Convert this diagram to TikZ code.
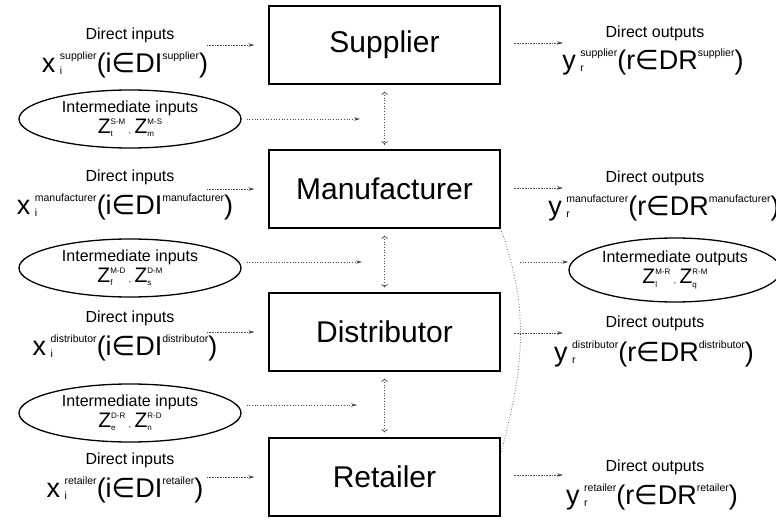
\documentclass[tikz,border=0pt]{standalone}
\usepackage{fontspec}
\setmainfont{Liberation Sans}
\newfontfamily\symfont{DejaVu Sans}
\usetikzlibrary{arrows.meta,shapes.geometric}
\newcommand{\fs}[1]{\fontsize{#1}{#1}\selectfont}
% variable with stacked sub/superscript, then its index set
\newcommand{\flowvar}[5]{{\fs{27}#1\,\rlap{\raisebox{-0.15ex}{\fs{10.5}#2}}\raisebox{0.85ex}{\fs{10.5}#3}(#4{\symfont ∈}#5\raisebox{0.85ex}{\fs{10.5}#3})}}
\newcommand{\zvar}[2]{Z\rlap{\raisebox{-0.3ex}{\fs{8}#2}}\raisebox{0.8ex}{\fs{8}#1}}
\newcommand{\zpair}[5]{\begin{tabular}{@{}c@{}}\fs{16}#1\\[3pt]\fs{21}\zvar{#2}{#3}\,{\fs{8},}\,\zvar{#4}{#5}\end{tabular}}

\begin{document}
\begin{tikzpicture}[x=1pt, y=1pt,
    unit/.style={draw, line width=1.1pt, minimum width=231pt, minimum height=78pt, font=\fs{30}},
    lbl/.style={font=\fs{16}},
    mid/.style={draw, ellipse, line width=1.3pt, minimum width=222pt, minimum height=58pt, inner sep=0pt},
    feed/.style={densely dotted, draw=black!70, line width=0.6pt, -{Stealth[length=6pt, width=3.5pt]}},
    trade/.style={dotted, draw=black!70, line width=0.7pt, -{Stealth[length=6pt, width=3.5pt]}}]
    \useasboundingbox (0,0) rectangle (776,520);

    \node[unit] (sup) at (384.5,475) {Supplier};
    \node[unit] (man) at (384.5,331) {Manufacturer};
    \node[unit] (dis) at (384.5,188) {Distributor};
    \node[unit] (ret) at (384.5,43) {Retailer};

    \draw[trade, <->, shorten <=7pt, shorten >=5pt] (sup) -- (man);
    \draw[trade, <->, shorten <=7pt, shorten >=5pt] (man) -- (dis);
    \draw[trade, <->, shorten <=7pt, shorten >=5pt] (dis) -- (ret);

    % direct inputs
    \node[lbl] (dinsup) at (130,485) {Direct inputs};
    \node (xsup) at (125,455) {\flowvar{x}{i}{supplier}{i}{DI}};
    \node[lbl] (dinman) at (130,343) {Direct inputs};
    \node (xman) at (125,313) {\flowvar{x}{i}{manufacturer}{i}{DI}};
    \node[lbl] (dindis) at (130,202) {Direct inputs};
    \node (xdis) at (125,172) {\flowvar{x}{i}{distributor}{i}{DI}};
    \node[lbl] (dinret) at (130,60) {Direct inputs};
    \node (xret) at (125,30) {\flowvar{x}{i}{retailer}{i}{DI}};

    \coordinate (asup) at (207,475);
    \coordinate (aman) at (207,331);
    \coordinate (adis) at (207,188);
    \coordinate (aret) at (207,43);
    \draw[feed, shorten >=14pt] (asup) -- (sup.west);
    \draw[feed, shorten >=14pt] (aman) -- (man.west);
    \draw[feed, shorten >=14pt] (adis) -- (dis.west);
    \draw[feed, shorten >=14pt] (aret) -- (ret.west);

    % intermediate inputs
    \node[mid] (isupman) at (130,401) {\zpair{Intermediate inputs}{S-M}{t}{M-S}{m}};
    \node[mid] (imandis) at (130,252) {\zpair{Intermediate inputs}{M-D}{f}{D-M}{s}};
    \node[mid] (idisret) at (130,107) {\zpair{Intermediate inputs}{D-R}{e}{R-D}{n}};

    \coordinate (msup) at (360,401);
    \coordinate (mman) at (362,258);
    \coordinate (mdis) at (357,115);
    \draw[trade, shorten <=5pt] (isupman.east |- msup) -- (msup);
    \draw[trade, shorten <=5pt] (imandis.east |- mman) -- (mman);
    \draw[trade, shorten <=5pt] (idisret.east |- mdis) -- (mdis);

    % direct outputs
    \node[lbl] (doutsup) at (655,487) {Direct outputs};
    \node (ysup) at (653,458) {\flowvar{y}{r}{supplier}{r}{DR}};
    \node[lbl] (doutman) at (655,342) {Direct outputs};
    \node (yman) at (664,312) {\flowvar{y}{r}{manufacturer}{r}{DR}};
    \node[lbl] (doutdis) at (655,197) {Direct outputs};
    \node (ydis) at (654,166) {\flowvar{y}{r}{distributor}{r}{DR}};
    \node[lbl] (doutret) at (655,53) {Direct outputs};
    \node (yret) at (652,23) {\flowvar{y}{r}{retailer}{r}{DR}};

    \coordinate (bsup) at (563,477);
    \coordinate (bman) at (563,332);
    \coordinate (bdis) at (563,187);
    \coordinate (bret) at (563,45);
    \draw[feed, shorten <=13pt] (sup.east |- bsup) -- (bsup);
    \draw[feed, shorten <=13pt] (man.east |- bman) -- (bman);
    \draw[feed, shorten <=13pt] (dis.east |- bdis) -- (bdis);
    \draw[feed, shorten <=13pt] (ret.east |- bret) -- (bret);

    % intermediate outputs
    \node[mid, minimum width=212pt, minimum height=64pt] (imanret) at (675,250) {\zpair{Intermediate outputs}{M-R}{l}{R-M}{q}};
    \coordinate (oman) at (520,258);
    \draw[trade] (oman) -- (oman -| imanret.west);

    \draw[dotted, draw=black!70, line width=0.7pt] (man.south east) to[out=-70, in=75] (ret.11);
\end{tikzpicture}
\end{document}
